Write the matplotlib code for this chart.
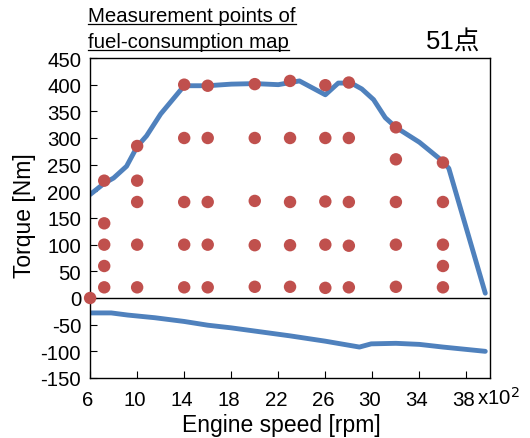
import numpy as np
import matplotlib
matplotlib.use("Agg")
import matplotlib.pyplot as plt
from matplotlib.lines import Line2D
from matplotlib.transforms import ScaledTranslation

plt.rcParams['font.family'] = ['Liberation Sans', 'Noto Sans CJK JP', 'DejaVu Sans']
plt.rcParams['axes.unicode_minus'] = False

# full-load torque curve (x100 rpm, Nm)
full_rpm = [6, 7.2, 8, 9.1, 10, 10.8, 12, 14, 16, 18, 20, 22, 23.8, 26, 27.1, 28.2, 29.1, 30.1, 31.1, 32, 34, 36, 36.5, 39.6]
full_nm = [194, 215, 225, 247, 284, 304, 345, 398, 398, 401, 402, 400, 407, 381, 403, 403, 392, 372, 338, 320, 292, 256, 243, 9]

# motoring torque curve
motor_rpm = [6, 7.8, 9.2, 11.5, 14, 16, 18, 20, 23, 26, 28.9, 29.9, 32, 34, 36, 39.6]
motor_nm = [-28, -28, -32, -37, -44, -51, -56, -62, -71, -81, -92, -86, -85, -87, -92, -100]

# measurement points (51)
pt_rpm = ([6] + [7.2] * 5 + [10] * 5 + [14] * 5 + [16] * 5 + [20] * 5 + [23] * 5
          + [26] * 5 + [28] * 5 + [32] * 5 + [36] * 5)
pt_nm = ([0]
         + [220, 140, 100, 60, 20]
         + [285, 220, 180, 100, 20]
         + [400, 300, 180, 100, 20]
         + [398, 300, 180, 100, 20]
         + [401, 300, 182, 99, 21]
         + [407, 300, 180, 99, 21]
         + [399, 300, 181, 100, 19]
         + [404, 300, 180, 98, 20]
         + [320, 260, 180, 100, 21]
         + [254, 180, 100, 60, 20])

xticks = [6, 10, 14, 18, 22, 26, 30, 34, 38]
yticks = list(range(-150, 451, 50))

blue = '#4F81BD'
red = '#C0504D'

fig = plt.figure(figsize=(5.3, 4.39), dpi=100)
ax = fig.add_axes([0.170, 0.1367, 0.7545, 0.7289])

ax.axhline(0, color='black', lw=1.0, zorder=1)
ax.plot(full_rpm, full_nm, color=blue, lw=3.5, solid_capstyle='round', zorder=2)
ax.plot(motor_rpm, motor_nm, color=blue, lw=3.5, solid_capstyle='round', zorder=2)
ax.scatter(pt_rpm, pt_nm, s=80, color=red, edgecolors='none', zorder=3, clip_on=False)

ax.set_xlim(6, 40)
ax.set_ylim(-150, 450)
ax.set_xticks(xticks)
ax.set_yticks(yticks)
ax.tick_params(direction='in', labelsize=14.7, length=5, width=0.8)
ax.tick_params(axis='y', pad=6.5)
ax.tick_params(axis='x', pad=9)
for lab in ax.get_xticklabels():
    lab.set_transform(lab.get_transform() + ScaledTranslation(-2.5 / 100, 0, fig.dpi_scale_trans))
for s in ax.spines.values():
    s.set_linewidth(1.0)

ax.set_xlabel('Engine speed [rpm]', fontsize=16.5)
ax.xaxis.set_label_coords(281 / 530, 1 - 432 / 439, transform=fig.transFigure)
ax.xaxis.label.set_va('baseline')
ax.set_ylabel('Torque [Nm]', fontsize=16.5)
ax.yaxis.set_label_coords(24 / 530, 1 - 216 / 439, transform=fig.transFigure)
ax.yaxis.label.set_va('center')

fig.text(477 / 530, 1 - 405 / 439, r'x10$^2$', fontsize=14.7, ha='left', va='baseline')

# underlined title
t1 = fig.text(88 / 530, 1 - 22 / 439, 'Measurement points of', fontsize=14.7, ha='left', va='baseline')
t2 = fig.text(88 / 530, 1 - 48 / 439, 'fuel-consumption map', fontsize=14.7, ha='left', va='baseline')
fig.text(480 / 530, 1 - 50 / 439, '51点', fontsize=18.5, ha='right', va='baseline')

fig.canvas.draw()
r = fig.canvas.get_renderer()
for t in (t1, t2):
    bb = t.get_window_extent(r)
    yb = t.get_position()[1] * fig.bbox.height - 3
    fig.add_artist(Line2D([bb.x0 / fig.bbox.width, bb.x1 / fig.bbox.width],
                          [yb / fig.bbox.height] * 2, color='black', lw=0.9,
                          transform=fig.transFigure))

fig.savefig('out.png', dpi=100)
